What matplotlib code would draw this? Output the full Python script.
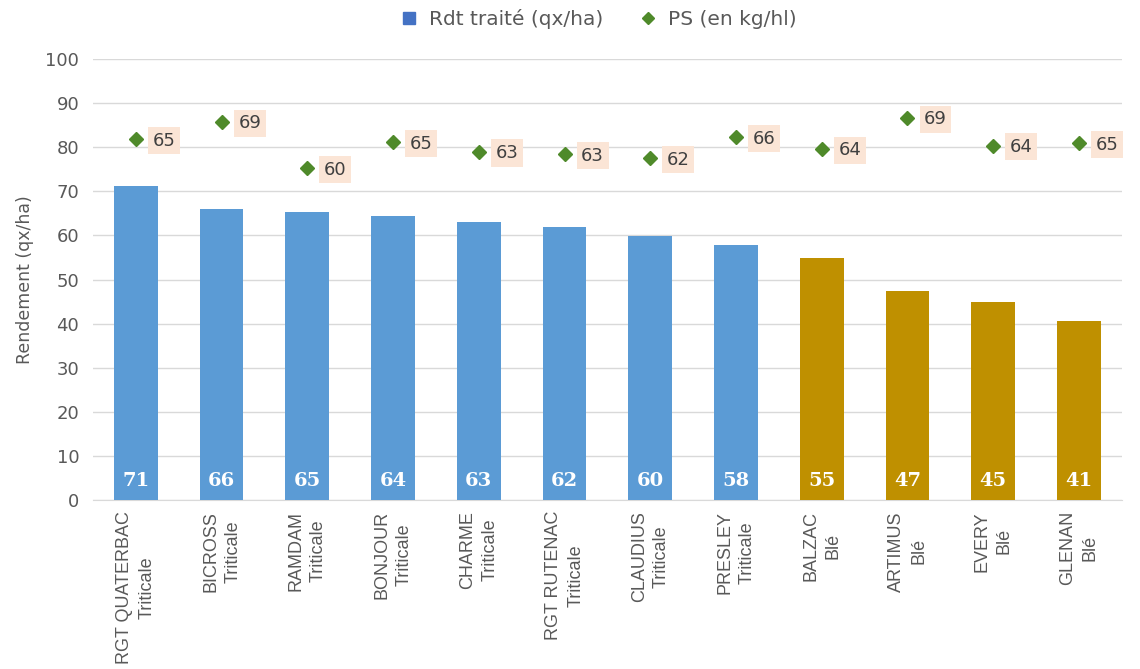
import numpy as np
import matplotlib.pyplot as plt
from matplotlib.lines import Line2D

# data
varieties = ["RGT QUATERBAC", "BICROSS", "RAMDAM", "BONJOUR", "CHARME", "RGT RUTENAC",
             "CLAUDIUS", "PRESLEY", "BALZAC", "ARTIMUS", "EVERY", "GLENAN"]
species = ["Triticale"] * 8 + ["Blé"] * 4
rdt = [71.3, 66.0, 65.2, 64.3, 63.0, 62.0, 59.8, 57.8, 54.9, 47.4, 44.9, 40.6]
ps = [65.4, 68.6, 60.2, 64.9, 63.2, 62.7, 62.0, 65.8, 63.7, 69.3, 64.3, 64.7]
yticks = list(range(0, 101, 10))

BLUE = "#5B9BD5"
GOLD = "#BF9000"
GREEN = "#4F8A2A"
GRAY = "#595959"

fig = plt.figure(figsize=(11.4, 6.69), dpi=100)
ax = fig.add_axes([0.0816, 0.2526, 0.9024, 0.6592])

x = np.arange(len(varieties))
colors = [BLUE if s == "Triticale" else GOLD for s in species]
ax.bar(x, rdt, width=0.51, color=colors, zorder=3)

for xi, v in zip(x, rdt):
    ax.text(xi, 4.3, f"{v:.0f}", ha="center", va="center", color="white",
            fontsize=14, fontweight="bold", family="DejaVu Serif", zorder=4)

ax.set_ylim(0, 100)
ax.set_xlim(-0.5, len(varieties) - 0.5)
ax.set_yticks(yticks)
ax.yaxis.grid(True, color="#D9D9D9", linewidth=1, zorder=0)
ax.set_axisbelow(True)
for s in ["top", "right", "left"]:
    ax.spines[s].set_visible(False)
ax.spines["bottom"].set_color("#D9D9D9")
ax.tick_params(axis="y", length=0, labelsize=13, labelcolor=GRAY, pad=10)
ax.tick_params(axis="x", length=0, pad=8)
ax.set_xticks(x)
ax.set_xticklabels([f"{v}\n{s}" for v, s in zip(varieties, species)],
                   rotation=90, fontsize=13, color=GRAY, family="Liberation Sans",
                   linespacing=1.4, multialignment="center")
ax.set_ylabel("Rendement (qx/ha)", fontsize=12.5, color=GRAY, labelpad=8)

# PS on a hidden secondary axis (0-80)
ax2 = ax.twinx()
ax2.set_ylim(0, 80)
ax2.axis("off")
ax2.plot(x, ps, linestyle="none", marker="D", markersize=7, color=GREEN, zorder=5)
for xi, v in zip(x, ps):
    ax2.annotate(f"{v:.0f}", (xi, v), xytext=(12, -1), textcoords="offset points",
                 ha="left", va="center", fontsize=13, color="#404040",
                 bbox=dict(boxstyle="square,pad=0.25", facecolor="#FBE5D6", edgecolor="none"))

handles = [
    Line2D([], [], linestyle="none", marker="s", markersize=8, color="#4472C4"),
    Line2D([], [], linestyle="none", marker="D", markersize=6, color=GREEN),
]
fig.legend(handles, ["Rdt traité (qx/ha)", "PS (en kg/hl)"], loc="center",
           bbox_to_anchor=(0.52, 0.972), ncol=2, frameon=False, fontsize=14.5,
           handletextpad=0.0, columnspacing=1.2, labelcolor=GRAY)

fig.savefig("out.png", dpi=100)
